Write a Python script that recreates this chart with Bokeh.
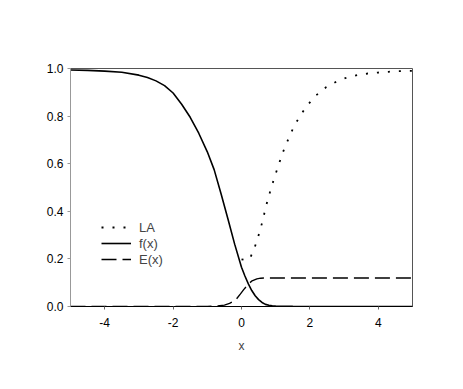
from bokeh.plotting import figure
from bokeh.models import Range1d, FixedTicker, PrintfTickFormatter, Legend, LegendItem
from bokeh.embed import file_html
from bokeh.resources import INLINE

# f(x)
f_x = [-5.0, -4.5, -4.0, -3.5, -3.0, -2.75, -2.5, -2.25, -2.0, -1.75, -1.5, -1.25, -1.0,
       -0.8, -0.6, -0.4, -0.2, 0.0, 0.1, 0.2, 0.3, 0.4, 0.5, 0.6, 0.7, 0.8, 0.9,
       1.0, 1.25, 1.5, 2.0, 5.0]
f_y = [0.994, 0.992, 0.989, 0.984, 0.972, 0.962, 0.948, 0.928, 0.897, 0.850, 0.795, 0.728,
       0.650, 0.575, 0.475, 0.370, 0.262, 0.165, 0.128, 0.095, 0.067, 0.045, 0.029, 0.017,
       0.009, 0.005, 0.003, 0.002, 0.001, 0.0005, 0.0, 0.0]

# E(x)
e_x = [-5.0, -1.0, -0.7, -0.5, -0.35, -0.18, -0.03, 0.07, 0.2, 0.31, 0.45, 0.56, 0.75, 5.0]
e_y = [0.0, 0.0, 0.002, 0.006, 0.013, 0.026, 0.053, 0.072, 0.094, 0.108, 0.116, 0.119,
       0.120, 0.120]

# LA
la_x = [0.0, 0.12, 0.24, 0.36, 0.46, 0.55, 0.63, 0.70, 0.78, 0.87, 0.96, 1.06, 1.16,
        1.27, 1.40, 1.53, 1.71, 1.91, 2.18, 2.47, 2.78, 3.08, 3.38, 3.69, 3.99,
        4.29, 4.58, 5.0]
la_y = [0.198, 0.195, 0.200, 0.238, 0.280, 0.324, 0.367, 0.412, 0.455, 0.499, 0.541,
        0.584, 0.627, 0.671, 0.713, 0.756, 0.800, 0.843, 0.887, 0.921, 0.945, 0.962,
        0.972, 0.979, 0.983, 0.986, 0.989, 0.990]

x_ticks = [-4, -2, 0, 2, 4]
y_ticks = [0.0, 0.2, 0.4, 0.6, 0.8, 1.0]

FONT = "Liberation Sans"

p = figure(width=447, height=373, output_backend="svg", toolbar_location=None,
           x_range=Range1d(-5, 5), y_range=Range1d(0, 1),
           min_border_left=70, min_border_right=35, min_border_top=68, min_border_bottom=67)
p.xgrid.visible = False
p.ygrid.visible = False
p.outline_line_color = "#555555"
p.outline_line_width = 1

r_la = p.line(la_x, la_y, line_color="black", line_width=1.8, line_dash="2 9")
r_f = p.line(f_x, f_y, line_color="black", line_width=1.6)
r_e = p.line(e_x, e_y, line_color="black", line_width=1.4, line_dash="15 6")

for ax in (p.xaxis[0], p.yaxis[0]):
    ax.minor_tick_line_color = None
    ax.major_tick_in = 0
    ax.major_tick_out = 3
    ax.major_label_text_font = FONT
    ax.major_label_text_font_size = "12px"
    ax.major_label_text_color = "black"
    ax.axis_label_text_font = FONT
    ax.axis_label_text_font_style = "normal"
    ax.axis_label_text_font_size = "12px"

p.xaxis.ticker = FixedTicker(ticks=x_ticks)
p.xaxis.formatter = PrintfTickFormatter(format="%d")
p.xaxis.major_label_standoff = 8
p.xaxis.axis_label = "x"
p.xaxis.axis_label_standoff = 9
p.xaxis.axis_line_color = "black"
p.xaxis.major_tick_line_color = "#666666"

p.yaxis.ticker = FixedTicker(ticks=y_ticks)
p.yaxis.formatter = PrintfTickFormatter(format="%.1f")
p.yaxis.major_label_standoff = 4
p.yaxis.axis_line_color = "#999999"
p.yaxis.major_tick_line_color = "#999999"

legend = Legend(items=[LegendItem(label="LA", renderers=[r_la]),
                       LegendItem(label="f(x)", renderers=[r_f]),
                       LegendItem(label="E(x)", renderers=[r_e])],
                location=(31, 39), glyph_width=30, glyph_height=16, label_height=16,
                spacing=0, padding=0, margin=0, label_standoff=8,
                label_text_font=FONT, label_text_font_size="13px",
                border_line_color=None, background_fill_alpha=0)
p.add_layout(legend, "center")

open("out.html", "w").write(file_html(p, INLINE))
